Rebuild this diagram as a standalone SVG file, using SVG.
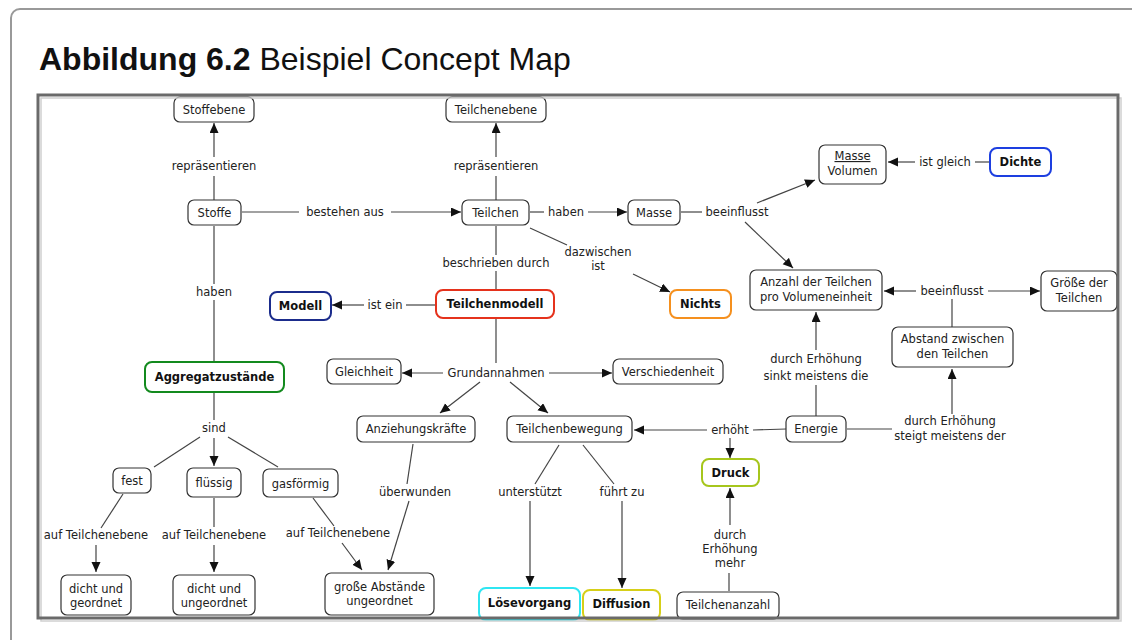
<svg xmlns="http://www.w3.org/2000/svg" width="1132" height="640" viewBox="0 0 1132 640">
<defs>
<marker id="ah" markerUnits="userSpaceOnUse" markerWidth="11" markerHeight="10" refX="10" refY="4.5" orient="auto">
<path d="M0,0 L10,4.5 L0,9 z" fill="#111"/>
</marker>
<style>
.n rect{fill:#fff;stroke:#333;stroke-width:1.2}
.n text,.lb{font-family:"DejaVu Sans",Verdana,sans-serif;font-size:11.5px;fill:#222;text-anchor:middle}
.n .b{font-weight:bold;fill:#111}
.c path{fill:none;stroke:#444;stroke-width:1.2}
.c .a{marker-end:url(#ah)}
</style>
</defs>
<rect x="0" y="0" width="1132" height="640" fill="#fff"/>
<rect x="11" y="9" width="1140" height="660" rx="9" fill="#fff" stroke="#999" stroke-width="2"/>
<text x="39" y="70" font-family="'Liberation Sans',Arial,Helvetica,sans-serif" font-size="32" fill="#111"><tspan font-weight="bold">Abbildung 6.2</tspan> Beispiel Concept Map</text>

<g class="c" id="connectors">
<path d="M214,200 L214,176"/>
<path class="a" d="M214,157 L214,123"/>
<path d="M496,200 L496,176"/>
<path class="a" d="M496,157 L496,123"/>
<path d="M242,212 L299,212"/>
<path class="a" d="M391,212 L461,212"/>
<path d="M530,212 L544,212"/>
<path class="a" d="M588,212 L627,212"/>
<path d="M681,212 L702,212"/>
<path class="a" d="M757,203 L815,180"/>
<path class="a" d="M745,222 L793,268"/>
<path d="M530,228 L567,245"/>
<path class="a" d="M633,274 L670,292"/>
<path d="M496,226 L496,255 M496,271 L496,290"/>
<path d="M436,305 L406,305"/>
<path class="a" d="M364,305 L332,305"/>
<path d="M496,319 L496,363"/>
<path class="a" d="M443,373 L402,373"/>
<path class="a" d="M549,373 L612,373"/>
<path class="a" d="M480,382 L440,413"/>
<path class="a" d="M510,382 L548,413"/>
<path d="M990,162 L975,162"/>
<path class="a" d="M915,162 L888,162"/>
<path d="M952,327 L952,299"/>
<path class="a" d="M916,291 L884,291"/>
<path class="a" d="M988,291 L1040,291"/>
<path d="M816,416 L816,385"/>
<path class="a" d="M816,350 L816,312"/>
<path d="M847,429 L892,429"/>
<path class="a" d="M952,414 L952,369"/>
<path d="M786,429 L753,430"/>
<path class="a" d="M707,430 L634,430"/>
<path class="a" d="M730,438 L730,458"/>
<path d="M729,591 L729,573"/>
<path class="a" d="M730,525 L730,488"/>
<path d="M559,445 L535,484"/>
<path class="a" d="M530,501 L530,586"/>
<path d="M583,445 L614,484"/>
<path class="a" d="M622,501 L622,588"/>
<path d="M413,444 L407,484"/>
<path class="a" d="M409,501 L388,570"/>
<path d="M214,226 L214,284 M214,300 L214,361"/>
<path d="M214,393 L214,420"/>
<path d="M200,437 L154,467"/>
<path class="a" d="M214,438 L214,466"/>
<path d="M228,437 L278,467"/>
<path d="M123,494 L101,528"/>
<path class="a" d="M96,545 L96,572"/>
<path d="M214,498 L214,527"/>
<path class="a" d="M214,545 L214,572"/>
<path d="M313,498 L334,526"/>
<path class="a" d="M342,543 L362,570"/>
</g>

<g id="labels">
<text class="lb" x="214" y="170">repräsentieren</text>
<text class="lb" x="496" y="170">repräsentieren</text>
<text class="lb" x="345" y="216">bestehen aus</text>
<text class="lb" x="566" y="216">haben</text>
<text class="lb" x="737" y="216">beeinflusst</text>
<text class="lb" x="598" y="256">dazwischen</text>
<text class="lb" x="598" y="270">ist</text>
<text class="lb" x="496" y="267">beschrieben durch</text>
<text class="lb" x="385" y="309">ist ein</text>
<text class="lb" x="496" y="377">Grundannahmen</text>
<text class="lb" x="945" y="166">ist gleich</text>
<text class="lb" x="952" y="295">beeinflusst</text>
<text class="lb" x="816" y="363">durch Erhöhung</text>
<text class="lb" x="816" y="380">sinkt meistens die</text>
<text class="lb" x="950" y="425">durch Erhöhung</text>
<text class="lb" x="950" y="440">steigt meistens der</text>
<text class="lb" x="730" y="434">erhöht</text>
<text class="lb" x="730" y="539">durch</text>
<text class="lb" x="730" y="553">Erhöhung</text>
<text class="lb" x="730" y="567">mehr</text>
<text class="lb" x="530" y="496">unterstützt</text>
<text class="lb" x="622" y="496">führt zu</text>
<text class="lb" x="415" y="496">überwunden</text>
<text class="lb" x="214" y="296">haben</text>
<text class="lb" x="214" y="432">sind</text>
<text class="lb" x="96" y="539">auf Teilchenebene</text>
<text class="lb" x="214" y="539">auf Teilchenebene</text>
<text class="lb" x="338" y="537">auf Teilchenebene</text>
</g>

<g class="n" id="n-stoffebene"><rect x="174" y="97" width="80" height="25" rx="6"/><text x="214" y="114">Stoffebene</text></g>
<g class="n" id="n-teilchenebene"><rect x="446" y="97" width="100" height="25" rx="6"/><text x="496" y="114">Teilchenebene</text></g>
<g class="n" id="n-stoffe"><rect x="188" y="200" width="53" height="25" rx="6"/><text x="214.5" y="217">Stoffe</text></g>
<g class="n" id="n-teilchen"><rect x="462" y="200" width="67" height="25" rx="6"/><text x="495.5" y="217">Teilchen</text></g>
<g class="n" id="n-masse"><rect x="628" y="200" width="52" height="25" rx="6"/><text x="654" y="217">Masse</text></g>
<g class="n" id="n-massevolumen"><rect x="819" y="145" width="67" height="39" rx="6"/><text x="852.5" y="160" text-decoration="underline">Masse</text><text x="852.5" y="175">Volumen</text></g>
<g class="n" id="n-dichte"><rect x="990" y="148" width="61" height="28" rx="7" style="stroke:#1d3fe0;stroke-width:2"/><text class="b" x="1020.5" y="166">Dichte</text></g>
<g class="n" id="n-nichts"><rect x="670" y="290" width="61" height="28" rx="7" style="stroke:#f5901e;stroke-width:2"/><text class="b" x="700.5" y="308">Nichts</text></g>
<g class="n" id="n-teilchenmodell"><rect x="436" y="290" width="118" height="28" rx="7" style="stroke:#e5321c;stroke-width:2"/><text class="b" x="495" y="308">Teilchenmodell</text></g>
<g class="n" id="n-modell"><rect x="270" y="292" width="61" height="28" rx="7" style="stroke:#1b2c8c;stroke-width:2"/><text class="b" x="300.5" y="310">Modell</text></g>
<g class="n" id="n-anzahl"><rect x="750" y="270" width="132" height="40" rx="6"/><text x="816" y="286">Anzahl der Teilchen</text><text x="816" y="301">pro Volumeneinheit</text></g>
<g class="n" id="n-groesse"><rect x="1041" y="271" width="76" height="40" rx="6"/><text x="1079" y="287">Größe der</text><text x="1079" y="302">Teilchen</text></g>
<g class="n" id="n-abstand"><rect x="892" y="327" width="121" height="40" rx="6"/><text x="952.5" y="343">Abstand zwischen</text><text x="952.5" y="358">den Teilchen</text></g>
<g class="n" id="n-aggregat"><rect x="145" y="362" width="139" height="30" rx="7" style="stroke:#138a1e;stroke-width:2"/><text class="b" x="214.5" y="381">Aggregatzustände</text></g>
<g class="n" id="n-gleichheit"><rect x="327" y="359" width="74" height="25" rx="6"/><text x="364" y="376">Gleichheit</text></g>
<g class="n" id="n-verschiedenheit"><rect x="613" y="359" width="110" height="25" rx="6"/><text x="668" y="376">Verschiedenheit</text></g>
<g class="n" id="n-anziehung"><rect x="357" y="416" width="118" height="26" rx="6"/><text x="416" y="433">Anziehungskräfte</text></g>
<g class="n" id="n-bewegung"><rect x="507" y="416" width="125" height="26" rx="6"/><text x="569.5" y="433">Teilchenbewegung</text></g>
<g class="n" id="n-energie"><rect x="786" y="416" width="60" height="26" rx="6"/><text x="816" y="433">Energie</text></g>
<g class="n" id="n-druck"><rect x="702" y="459" width="57" height="27" rx="7" style="stroke:#a6c61c;stroke-width:2"/><text class="b" x="730.5" y="477">Druck</text></g>
<g class="n" id="n-fest"><rect x="113" y="468" width="38" height="25" rx="6"/><text x="132" y="485">fest</text></g>
<g class="n" id="n-fluessig"><rect x="187" y="468" width="54" height="29" rx="6"/><text x="214" y="487">flüssig</text></g>
<g class="n" id="n-gasfoermig"><rect x="263" y="469" width="75" height="28" rx="6"/><text x="300.5" y="488">gasförmig</text></g>
<g class="n" id="n-dichtgeordnet"><rect x="61" y="575" width="70" height="40" rx="6"/><text x="96" y="593">dicht und</text><text x="96" y="607">geordnet</text></g>
<g class="n" id="n-dichtungeordnet"><rect x="173" y="575" width="82" height="40" rx="6"/><text x="214" y="593">dicht und</text><text x="214" y="607">ungeordnet</text></g>
<g class="n" id="n-grosseabstaende"><rect x="325" y="573" width="109" height="42" rx="6"/><text x="379.5" y="591">große Abstände</text><text x="379.5" y="605">ungeordnet</text></g>
<g class="n" id="n-loesevorgang"><rect x="479" y="588" width="101" height="32" rx="7" style="stroke:#2fe6f2;stroke-width:2"/><text class="b" x="529.5" y="607">Lösevorgang</text></g>
<g class="n" id="n-diffusion"><rect x="583" y="590" width="77" height="30" rx="7" style="stroke:#d6cf18;stroke-width:2"/><text class="b" x="621.5" y="608">Diffusion</text></g>
<g class="n" id="n-teilchenanzahl"><rect x="677" y="592" width="102" height="27" rx="6"/><text x="728" y="609">Teilchenanzahl</text></g>

<rect x="41" y="98" width="1080" height="523" fill="none" stroke="#d0d0d0" stroke-width="1.5"/>
<rect x="38" y="95" width="1080" height="523" fill="none" stroke="#6a6a6a" stroke-width="3"/>
</svg>
